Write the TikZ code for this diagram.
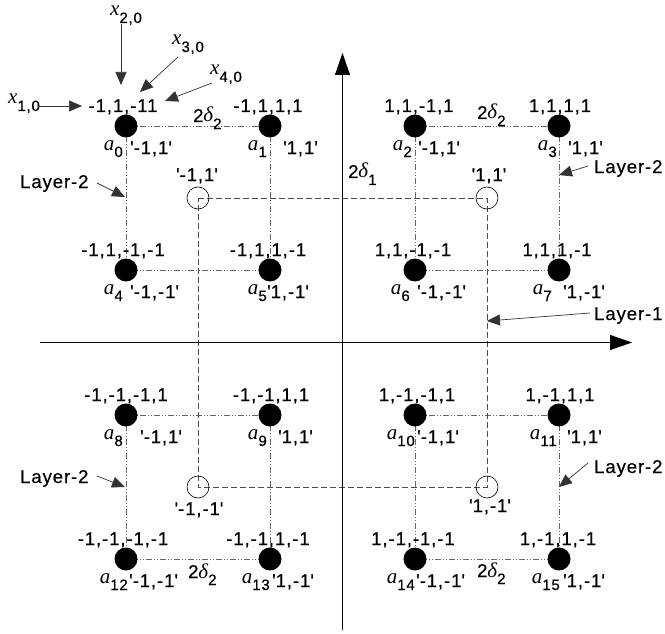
\documentclass[tikz,border=0pt]{standalone}
\usepackage{fontspec}
\setmainfont{Liberation Sans}[LetterSpace=5,FakeBold=0.5]
\newfontfamily\tms{Liberation Serif}
\usetikzlibrary{arrows.meta,backgrounds}
\newcommand\qt{\textquotesingle}
\newcommand\sbx[1]{\raisebox{-7pt}{\fontsize{15}{17}\selectfont #1}}
\newcommand\vlet[1]{{\tms\itshape\fontsize{21}{22}\selectfont #1}}
\begin{document}
\begin{tikzpicture}[x=1pt,y=-1pt,
  dot/.style={circle,fill=black,inner sep=0pt,minimum size=23pt},
  hollow/.style={circle,draw=black,line width=0.6pt,inner sep=0pt,minimum size=22pt},
  txt/.style={inner sep=0pt,font=\fontsize{18.5}{21}\selectfont},
  layertwo/.style={draw=black!60,line width=0.7pt,dash pattern=on 6pt off 2pt on 1pt off 2pt on 1pt off 2pt},
  layerone/.style={draw=black!70,line width=0.8pt,dash pattern=on 6pt off 3pt},
  axis/.style={draw=black,line width=0.9pt,-{Triangle[length=22pt,width=15pt]}},
  ann/.style={draw=black!80,line width=0.7pt,-{Triangle[length=13pt,width=11pt]}}]
\useasboundingbox (0,0) rectangle (665,634);

% axes
\coordinate (yb) at (342.5,630);
\coordinate (yt) at (342.5,53);
\coordinate (xl) at (40,342.5);
\coordinate (xr) at (632,342.5);
\draw[axis] (yb) -- (yt);
\draw[axis] (xl) -- (xr);

% constellation points
\foreach \i/\x/\y/\t/\dt/\c/\dc/\da in {
  0/126/126/{-1,1,-11}/-3/{\qt-1,1\qt}/4/-3,
  1/270/126/{-1,1,1,1}/-2/{\qt1,1\qt}/13/-3,
  2/415/126/{1,1,-1,1}/4/{\qt-1,1\qt}/3/-3,
  3/559/126/{1,1,1,1}/1/{\qt1,1\qt}/9/-2,
  4/126/270/{-1,1,-1,-1}/-3/{\qt-1,-1\qt}/4/-3,
  5/270/270/{-1,1,1,-1}/-2/{\qt1,-1\qt}/-3/-3,
  6/415/270/{1,1,-1,-1}/-2/{\qt-1,-1\qt}/2/-5,
  7/559/270/{1,1,1,-1}/-2/{\qt1,-1\qt}/4/-7,
  8/126/415/{-1,-1,-1,1}/0/{\qt-1,1\qt}/14/-3,
  9/270/415/{-1,-1,1,1}/1/{\qt1,1\qt}/8/-3,
  10/415/415/{1,-1,-1,1}/2/{\qt-1,1\qt}/2/0,
  11/559/415/{1,-1,1,1}/1/{\qt1,1\qt}/8/-2,
  12/126/559/{-1,-1,-1,-1}/-3/{\qt-1,-1\qt}/3/2,
  13/270/559/{-1,-1,1,-1}/-2/{\qt1,-1\qt}/2/0,
  14/415/559/{1,-1,-1,-1}/-2/{\qt-1,-1\qt}/1/0,
  15/559/559/{1,-1,1,-1}/-1/{\qt1,-1\qt}/4/1}
{
  \node[dot] (a\i) at (\x,\y) {};
  \node[txt,anchor=base] (t\i) at (\x+\dt,\y-14) {\t};
  \node[txt,anchor=base west] (c\i) at (\x+\dc,\y+28) {\c};
  \node[txt,anchor=base east] (n\i) at (\x+\da,\y+24) {\vlet{a}\sbx{\i}};
}

% layer-1 points
\node[hollow] (pmp) at (198,198) {};
\node[hollow] (ppp) at (487,198) {};
\node[hollow] (pmm) at (198,487) {};
\node[hollow] (ppm) at (487,487) {};
\node[txt,anchor=base] (lpmp) at (197,181) {\qt-1,1\qt};
\node[txt,anchor=base] (lppp) at (489,181) {\qt1,1\qt};
\node[txt,anchor=base] (lpmm) at (199,515) {\qt-1,-1\qt};
\node[txt,anchor=base] (lppm) at (490,512) {\qt1,-1\qt};

\begin{pgfonlayer}{background}
  \draw[layertwo] (a0.center) -- (a1.center) -- (a5.center) -- (a4.center) -- cycle;
  \draw[layertwo] (a2.center) -- (a3.center) -- (a7.center) -- (a6.center) -- cycle;
  \draw[layertwo] (a8.center) -- (a9.center) -- (a13.center) -- (a12.center) -- cycle;
  \draw[layertwo] (a10.center) -- (a11.center) -- (a15.center) -- (a14.center) -- cycle;
  \draw[layerone] (pmp.center) -- (ppp.center) -- (ppm.center) -- (pmm.center) -- cycle;
\end{pgfonlayer}

% distance labels
\node[txt,anchor=base west] (d2a) at (193,122) {2\vlet{δ}\sbx{2}};
\node[txt,anchor=base west] (d2b) at (477,119) {2\vlet{δ}\sbx{2}};
\node[txt,anchor=base west] (d1) at (348,178) {2\vlet{δ}\sbx{1}};
\node[txt,anchor=base west] (d2c) at (188,578) {2\vlet{δ}\sbx{2}};
\node[txt,anchor=base west] (d2d) at (477,577) {2\vlet{δ}\sbx{2}};

% input labels
\node[txt,anchor=base west] (x1) at (8,104) {\vlet{x}\sbx{1,0}};
\node[txt,anchor=base west] (x2) at (110,16) {\vlet{x}\sbx{2,0}};
\node[txt,anchor=base west] (x3) at (172,45) {\vlet{x}\sbx{3,0}};
\node[txt,anchor=base west] (x4) at (210,75) {\vlet{x}\sbx{4,0}};
\coordinate (x1s) at (38,106);  \coordinate (x1e) at (82,106);
\coordinate (x2s) at (121,24);  \coordinate (x2e) at (121,85);
\coordinate (x3s) at (178,57);  \coordinate (x3e) at (140,92);
\coordinate (x4s) at (212,83);  \coordinate (x4e) at (165,101);
\draw[ann] (x1s) -- (x1e);
\draw[ann] (x2s) -- (x2e);
\draw[ann] (x3s) -- (x3e);
\draw[ann] (x4s) -- (x4e);

% layer labels
\node[txt,anchor=base west] (L2a) at (20,188) {Layer-2};
\node[txt,anchor=base west] (L2b) at (594,173) {Layer-2};
\node[txt,anchor=base west] (L1) at (594,320) {Layer-1};
\node[txt,anchor=base west] (L2c) at (20,483) {Layer-2};
\node[txt,anchor=base west] (L2d) at (594,473) {Layer-2};
\coordinate (L2as) at (97,183);  \coordinate (L2ae) at (125,197);
\coordinate (L2bs) at (588,166); \coordinate (L2be) at (559,175);
\coordinate (L1s) at (590,313);  \coordinate (L1e) at (487,321);
\coordinate (L2cs) at (97,476);  \coordinate (L2ce) at (125,487);
\coordinate (L2ds) at (588,463); \coordinate (L2de) at (559,487);
\draw[ann] (L2as) -- (L2ae);
\draw[ann] (L2bs) -- (L2be);
\draw[ann] (L1s) -- (L1e);
\draw[ann] (L2cs) -- (L2ce);
\draw[ann] (L2ds) -- (L2de);
\end{tikzpicture}
\end{document}
